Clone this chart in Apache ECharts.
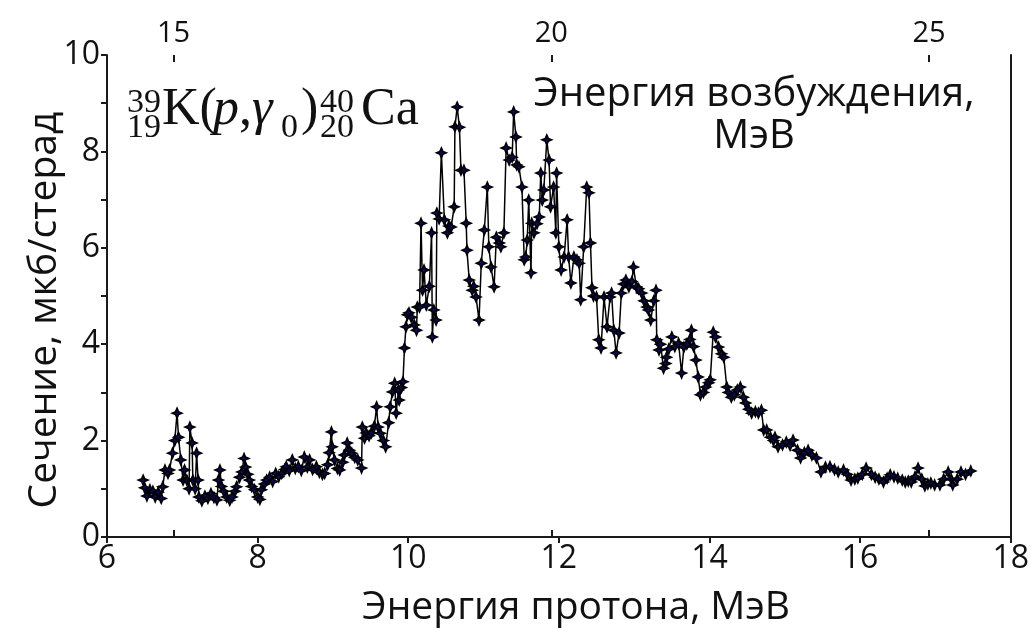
<!DOCTYPE html>
<html>
<head>
<meta charset="utf-8">
<script src="https://cdn.jsdelivr.net/npm/echarts@6/dist/echarts.min.js"></script>
<style>
html,body{margin:0;padding:0;background:#fff;}
#chart{width:1032px;height:632px;}
</style>
</head>
<body>
<div id="chart"></div>
<script>
// Proton energy, MeV
var energy = [
6.48,6.50,6.53,6.57,6.61,6.64,6.68,6.72,6.74,6.77,6.81,6.83,6.87,6.90,6.93,6.95,6.98,7.01,7.03,7.06,
7.09,7.10,7.13,7.14,7.17,7.19,7.21,7.22,7.26,7.30,7.34,7.38,7.42,7.46,7.48,7.50,7.52,7.55,7.59,7.63,
7.66,7.70,7.72,7.76,7.79,7.82,7.84,7.87,7.89,7.92,7.96,8.00,8.03,8.05,8.09,8.12,8.16,8.20,8.24,8.28,
8.32,8.36,8.38,8.42,8.46,8.50,8.54,8.58,8.62,8.66,8.69,8.73,8.78,8.82,8.86,8.89,8.93,8.95,8.98,8.99,
9.02,9.06,9.09,9.13,9.15,9.19,9.22,9.25,9.29,9.33,9.38,9.39,9.42,9.44,9.48,9.51,9.55,9.58,9.60,9.63,
9.67,9.70,9.74,9.76,9.79,9.82,9.84,9.87,9.88,9.91,9.93,9.95,9.97,9.99,10.01,10.04,10.08,10.11,10.12,10.15,
10.17,10.19,10.21,10.24,10.28,10.31,10.32,10.34,10.37,10.38,10.41,10.44,10.48,10.52,10.54,10.57,10.61,10.62,10.65,10.68,
10.70,10.74,10.77,10.78,10.81,10.85,10.87,10.90,10.94,10.97,11.01,11.05,11.07,11.10,11.14,11.17,11.21,11.23,11.27,11.30,
11.34,11.38,11.40,11.43,11.44,11.47,11.51,11.54,11.56,11.58,11.60,11.63,11.64,11.67,11.71,11.74,11.76,11.78,11.80,11.84,
11.87,11.89,11.93,11.96,11.97,12.00,12.03,12.07,12.11,12.13,12.16,12.20,12.24,12.27,12.29,12.33,12.37,12.40,12.42,12.44,
12.46,12.50,12.53,12.56,12.60,12.64,12.68,12.70,12.73,12.76,12.80,12.83,12.86,12.89,12.93,12.97,12.99,13.03,13.06,13.10,
13.13,13.17,13.19,13.22,13.26,13.29,13.30,13.33,13.35,13.39,13.42,13.43,13.46,13.50,13.54,13.59,13.63,13.66,13.70,13.74,
13.76,13.79,13.82,13.85,13.88,13.92,13.95,13.99,14.01,14.05,14.08,14.12,14.16,14.19,14.23,14.25,14.29,14.33,14.37,14.41,
14.45,14.48,14.52,14.56,14.61,14.65,14.69,14.72,14.76,14.81,14.85,14.87,14.91,14.97,15.02,15.07,15.11,15.17,15.21,15.26,
15.31,15.36,15.42,15.48,15.54,15.60,15.66,15.71,15.78,15.83,15.88,15.93,15.97,16.03,16.08,16.15,16.20,16.25,16.31,16.36,
16.40,16.45,16.50,16.56,16.60,16.64,16.68,16.73,16.77,16.82,16.86,16.90,16.94,16.99,17.06,17.11,17.17,17.21,17.23,17.29,
17.34,17.40,17.47
];
// Cross section, microbarn/steradian
var crossSection = [
1.18,1.02,0.85,0.98,0.95,0.83,0.93,0.80,1.04,1.39,1.32,1.39,1.74,2.00,2.57,2.07,1.60,1.18,1.39,1.18,
1.00,2.28,1.95,1.18,1.00,1.74,1.18,0.83,0.75,0.85,0.80,0.90,0.82,0.77,1.18,1.39,1.05,0.95,0.83,0.76,
0.83,0.95,1.04,1.24,1.35,1.63,1.45,1.30,1.18,1.05,0.98,0.83,0.78,0.98,1.10,1.18,1.24,1.15,1.32,1.25,
1.32,1.40,1.46,1.38,1.60,1.42,1.46,1.38,1.66,1.45,1.60,1.40,1.46,1.34,1.30,1.32,1.50,1.75,2.18,1.87,
1.60,1.42,1.39,1.55,1.70,1.95,1.80,1.74,1.65,1.60,1.43,2.28,2.05,2.16,2.10,2.16,2.30,2.70,2.28,2.15,
2.00,1.87,2.37,2.70,3.01,3.19,2.57,3.05,2.84,3.10,3.22,3.92,4.36,4.61,4.65,4.56,4.40,4.29,4.77,4.77,
6.51,5.12,5.54,4.81,5.20,6.31,4.15,4.71,4.50,6.72,6.60,7.97,6.58,6.31,6.45,6.43,6.85,8.51,8.92,8.50,
7.61,7.61,6.51,5.95,5.33,5.12,5.20,4.98,4.50,5.68,6.37,7.26,6.02,5.60,5.19,6.22,6.10,6.02,6.31,8.07,
7.82,7.88,8.82,8.30,7.72,7.68,7.26,5.75,5.81,6.16,6.99,5.48,6.51,6.31,6.50,6.64,7.55,6.99,7.20,8.24,
7.82,6.85,7.26,6.31,7.55,6.02,5.54,5.81,6.58,5.81,5.27,5.81,5.75,5.68,4.92,6.02,7.26,7.14,6.10,5.17,
5.00,4.98,4.09,3.92,4.98,4.36,4.98,5.06,4.29,3.82,4.23,5.06,5.25,5.33,5.19,5.30,5.60,5.19,5.15,5.06,
4.90,4.77,4.71,4.50,4.90,5.12,4.09,3.88,4.00,3.50,3.60,3.73,3.90,4.15,3.95,4.02,3.40,3.94,4.00,4.10,
4.29,3.95,3.67,3.32,2.95,3.00,3.11,3.20,3.26,4.25,4.15,3.94,3.80,3.73,3.11,3.00,2.90,2.95,3.05,3.11,
2.90,2.78,2.65,2.57,2.60,2.57,2.63,2.22,2.22,2.07,2.00,2.07,1.87,1.91,1.97,1.90,2.01,1.80,1.64,1.75,
1.80,1.70,1.64,1.35,1.45,1.46,1.40,1.35,1.39,1.30,1.18,1.20,1.22,1.30,1.43,1.30,1.24,1.20,1.14,1.22,
1.29,1.25,1.22,1.18,1.14,1.16,1.14,1.25,1.43,1.20,1.06,1.10,1.12,1.08,1.08,1.20,1.35,1.20,1.08,1.20,
1.35,1.30,1.37
];
var xTicks = [6, 8, 10, 12, 14, 16, 18];
var yTicks = [0, 2, 4, 6, 8, 10];
var excitationTicks = [15, 20, 25];
var excitationRange = [14.12, 26.08];

var points = energy.map(function (e, i) { return [e, crossSection[i]]; });
var axisColor = '#1a1a1a';
var labelFont = '"Open Sans", "Noto Sans", sans-serif';
var serif = '"Liberation Serif", "DejaVu Serif", serif';

var chart = echarts.init(document.getElementById('chart'), null, { renderer: 'canvas' });
chart.setOption({
  animation: false,
  backgroundColor: '#ffffff',
  grid: { left: 107, right: 19, top: 55, bottom: 95, containLabel: false },
  xAxis: [
    {
      type: 'value', position: 'bottom', min: xTicks[0], max: xTicks[xTicks.length - 1], interval: 2,
      axisLine: { show: true, lineStyle: { color: axisColor, width: 2 } },
      axisTick: { show: true, length: 6, lineStyle: { color: axisColor, width: 2 } },
      axisLabel: { fontFamily: labelFont, fontSize: 32, color: '#111', margin: 6 },
      splitLine: { show: false }
    },
    {
      type: 'value', position: 'top', min: excitationRange[0], max: excitationRange[1],
      axisLine: { show: true, lineStyle: { color: axisColor, width: 2 } },
      axisTick: { show: true, length: 7, customValues: excitationTicks, lineStyle: { color: axisColor, width: 2 } },
      axisLabel: { show: true, customValues: excitationTicks, fontFamily: labelFont, fontSize: 29, color: '#111', margin: 7 },
      splitLine: { show: false }
    },
    {
      type: 'value', position: 'top', min: excitationRange[0], max: excitationRange[1],
      axisLine: { show: false },
      axisTick: { show: true, inside: true, length: 7, customValues: excitationTicks, lineStyle: { color: axisColor, width: 2 } },
      axisLabel: { show: false },
      splitLine: { show: false }
    }
  ],
  yAxis: [
    {
      type: 'value', min: yTicks[0], max: yTicks[yTicks.length - 1], interval: 2,
      axisLine: { show: true, lineStyle: { color: axisColor, width: 2 } },
      axisTick: { show: true, length: 6, lineStyle: { color: axisColor, width: 2 } },
      minorTick: { show: true, splitNumber: 2, length: 6, lineStyle: { color: axisColor, width: 2 } },
      axisLabel: { fontFamily: labelFont, fontSize: 32, color: '#111', margin: 7 },
      splitLine: { show: false }
    },
    {
      type: 'value', position: 'right', min: 0, max: 10,
      axisLine: { show: true, lineStyle: { color: axisColor, width: 2 } },
      axisTick: { show: false }, axisLabel: { show: false }, splitLine: { show: false }
    }
  ],
  series: [
    {
      type: 'line',
      xAxisIndex: 0, yAxisIndex: 0,
      data: points,
      symbol: 'path://M0,-10 L3,-3 L10,0 L3,3 L0,10 L-3,3 L-10,0 L-3,-3 Z',
      symbolSize: 10,
      showAllSymbol: true,
      lineStyle: { color: '#000', width: 1.5 },
      itemStyle: { color: '#0a0a50', borderColor: '#000', borderWidth: 1.5 },
      z: 3
    }
  ],
  graphic: [
    { type: 'text', x: 576, y: 608, style: { text: 'Энергия протона, МэВ', textAlign: 'center', textVerticalAlign: 'middle', font: '39px ' + labelFont, fill: '#111' } },
    { type: 'text', x: 45, y: 310, rotation: Math.PI / 2, style: { text: 'Сечение, мкб/стерад', textAlign: 'center', textVerticalAlign: 'middle', font: '39px ' + labelFont, fill: '#111' } },
    { type: 'text', left: 127, top: 86, style: { text: '39', font: '34px ' + serif, fill: '#111' } },
    { type: 'text', left: 127, top: 111, style: { text: '19', font: '34px ' + serif, fill: '#111' } },
    { type: 'text', left: 162, top: 84, style: { text: 'K(', font: '52px ' + serif, fill: '#111' } },
    { type: 'text', left: 213, top: 84, style: { text: 'p', font: 'italic 52px ' + serif, fill: '#111' } },
    { type: 'text', left: 239, top: 84, style: { text: ',', font: '52px ' + serif, fill: '#111' } },
    { type: 'text', left: 252, top: 84, style: { text: 'γ', font: 'italic 52px ' + serif, fill: '#111' } },
    { type: 'text', left: 281, top: 111, style: { text: '0', font: '34px ' + serif, fill: '#111' } },
    { type: 'text', left: 301, top: 84, style: { text: ')', font: '52px ' + serif, fill: '#111' } },
    { type: 'text', left: 320, top: 86, style: { text: '40', font: '34px ' + serif, fill: '#111' } },
    { type: 'text', left: 320, top: 111, style: { text: '20', font: '34px ' + serif, fill: '#111' } },
    { type: 'text', left: 361, top: 84, style: { text: 'Ca', font: '52px ' + serif, fill: '#111' } },
    { type: 'text', x: 754, y: 74, style: { text: 'Энергия возбуждения,\nМэВ', textAlign: 'center', font: '40px ' + labelFont, lineHeight: 42, fill: '#111' } }
  ]
});
</script>
</body>
</html>
